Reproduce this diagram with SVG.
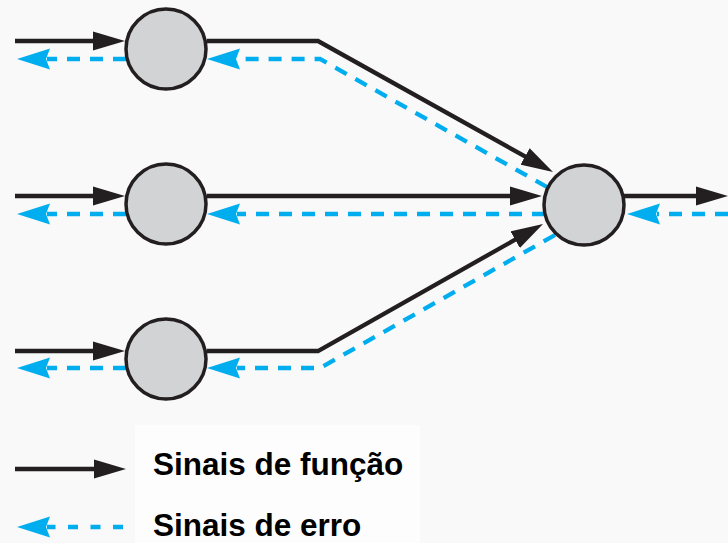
<svg xmlns="http://www.w3.org/2000/svg" width="728" height="543" viewBox="0 0 728 543">
  <defs>
    <!-- solid head for function signals -->
    <marker id="headFn" viewBox="-2 -10 34 20" markerWidth="34" markerHeight="20" refX="0" refY="0" orient="auto" markerUnits="userSpaceOnUse">
      <path d="M-2,-9.5 L30,0 L-2,9.5 Z" fill="#231f20"/>
    </marker>
    <!-- head for error signals -->
    <marker id="headErr" viewBox="-3 -11 34 22" markerWidth="34" markerHeight="22" refX="0" refY="0" orient="auto" markerUnits="userSpaceOnUse">
      <path d="M-3,-10.5 L30,0 L-3,10.5 L1,0 Z" fill="#00aeef"/>
    </marker>
  </defs>
  <style>
    .fn { fill: none; stroke: #231f20; stroke-width: 4.3; stroke-linejoin: miter; marker-end: url(#headFn); }
    .err { fill: none; stroke: #00aeef; stroke-width: 4.3; stroke-dasharray: 13 10; marker-end: url(#headErr); }
    .err.short { stroke-dasharray: 10 12.5; }
    .node circle { fill: #d1d3d4; stroke: #231f20; stroke-width: 3.5; }
    .label { font-family: "Liberation Sans", Arial, sans-serif; font-weight: bold; font-size: 31.5px; fill: #000; }
  </style>

  <rect width="728" height="543" fill="#f9f9f9"/>
  <rect x="135" y="425" width="285" height="118" fill="#fdfdfd"/>

  <g id="connectors">
    <!-- inputs into the hidden layer -->
    <path class="fn" d="M15,41 L95,41"/>
    <path class="fn" d="M15,196 L95,196"/>
    <path class="fn" d="M15,351 L95,351"/>
    <!-- hidden layer to output neuron -->
    <path class="fn" d="M207,41 L318,41 L526.8,157.4"/>
    <path class="fn" d="M207,196 L512,196"/>
    <path class="fn" d="M207,351 L318,351 L516.9,238.7"/>
    <!-- output -->
    <path class="fn" d="M624,196 L698,196"/>

    <!-- error signals flowing back -->
    <path class="err" d="M728,214 L657,214"/>
    <path class="err" d="M547,187 L320,59 L237,59"/>
    <path class="err" d="M545,214 L237,214"/>
    <path class="err" d="M555,235 L320,368 L237,368"/>
    <path class="err" d="M126,59 L47,59"/>
    <path class="err" d="M126,214 L47,214"/>
    <path class="err" d="M126,368 L47,368"/>
  </g>

  <g id="n1" class="node"><circle cx="166" cy="49" r="40"/></g>
  <g id="n2" class="node"><circle cx="166" cy="204" r="40"/></g>
  <g id="n3" class="node"><circle cx="166" cy="359" r="40"/></g>
  <g id="out" class="node"><circle cx="584" cy="205" r="40"/></g>

  <g id="legend">
    <path class="fn" d="M15,469 L96,469"/>
    <path class="err short" d="M123,527 L47,527"/>
    <text class="label" x="153" y="475">Sinais de função</text>
    <text class="label" x="153" y="536">Sinais de erro</text>
  </g>
</svg>
